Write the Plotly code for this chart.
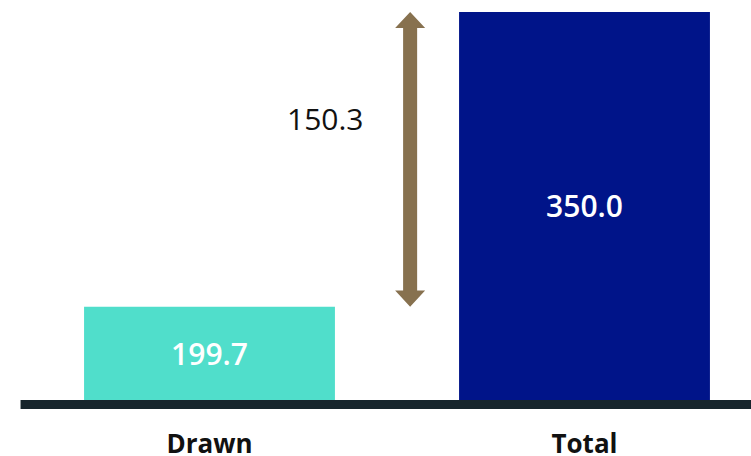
import plotly.graph_objects as go

categories = ["Drawn", "Total"]
values = [199.7, 350.0]
difference_label = "150.3"
bar_colors = ["#50DECB", "#001489"]

y_min, y_max = 152.1, 356.1
x_range = [-0.5, 1.444]
arrow_x = 0.535
shaft_hw = 0.0187   # half shaft width in x data units
head_hw = 0.040     # half head width in x data units
head_h = 8.2        # head height in y data units

fig = go.Figure()
fig.add_trace(go.Bar(
    x=categories,
    y=[v - y_min for v in values],
    base=y_min,
    width=0.669,
    marker=dict(color=bar_colors, line=dict(width=0)),
    text=[f"{v:.1f}" for v in values],
    textposition="inside",
    insidetextanchor="middle",
    textangle=0,
    textfont=dict(family="Open Sans", size=30, color="white", weight=600),
    hoverinfo="skip",
))

lo, hi = values[0], values[1]
xa = arrow_x
pts = [
    (xa, hi), (xa + head_hw, hi - head_h), (xa + shaft_hw, hi - head_h),
    (xa + shaft_hw, lo + head_h), (xa + head_hw, lo + head_h), (xa, lo),
    (xa - head_hw, lo + head_h), (xa - shaft_hw, lo + head_h),
    (xa - shaft_hw, hi - head_h), (xa - head_hw, hi - head_h),
]
path = "M " + " L ".join(f"{px},{py}" for px, py in pts) + " Z"
fig.add_shape(type="path", path=path, xref="x", yref="y",
              fillcolor="#87714F", line=dict(width=0), layer="above")

fig.add_annotation(x=arrow_x, y=295.5, xref="x", yref="y",
                   text=difference_label, showarrow=False,
                   xanchor="right", xshift=-44,
                   font=dict(family="Open Sans", size=30, color="#111111"))

# baseline
fig.add_shape(type="rect", xref="paper", yref="paper",
              x0=-0.002, x1=1.0, y0=-9/400, y1=0,
              fillcolor="#17252C", line=dict(width=0), layer="above")

fig.update_layout(
    width=751, height=456,
    margin=dict(l=22, r=0, t=0, b=56, autoexpand=False),
    paper_bgcolor="white", plot_bgcolor="white",
    showlegend=False,
    xaxis=dict(range=x_range, showgrid=False, zeroline=False, showline=False,
               automargin=False,
               ticks="", tickfont=dict(family="Open Sans", size=26, color="#111111", weight=700),
               ticklabelstandoff=26),
    yaxis=dict(range=[y_min, y_max], visible=False, showgrid=False, zeroline=False,
               automargin=False),
)

fig.write_html("out.html")
